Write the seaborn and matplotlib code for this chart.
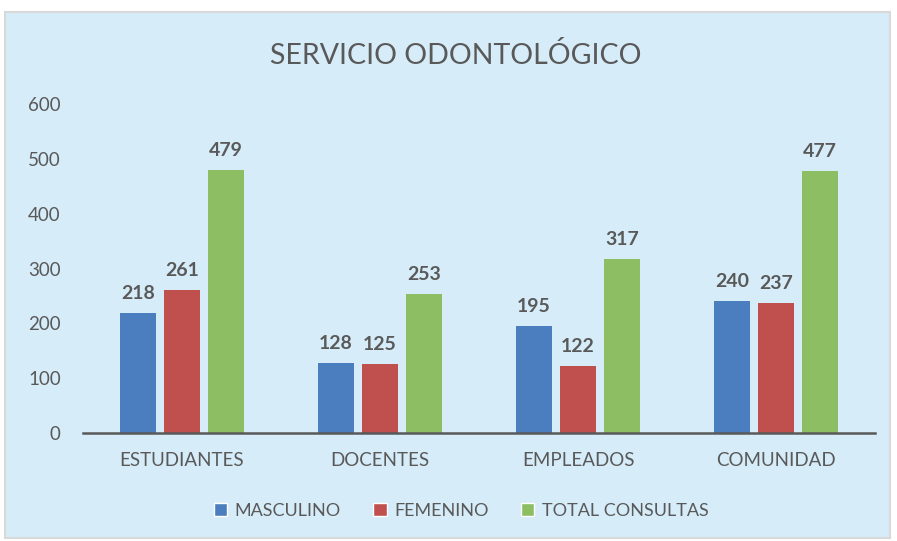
import matplotlib
matplotlib.use("Agg")
import matplotlib.pyplot as plt
import seaborn as sns
import pandas as pd
from matplotlib.patches import Rectangle, Patch

categories = ["ESTUDIANTES", "DOCENTES", "EMPLEADOS", "COMUNIDAD"]
series = ["MASCULINO", "FEMENINO", "TOTAL CONSULTAS"]
masculino = [218, 128, 195, 240]
femenino = [261, 125, 122, 237]
total = [479, 253, 317, 477]
y_ticks = [0, 100, 200, 300, 400, 500, 600]

colors = ["#4A7EBF", "#C0504D", "#8EBE64"]
bg = "#D6ECF9"
text_col = "#595959"

df = pd.DataFrame({
    "categoria": categories * 3,
    "serie": [s for s in series for _ in categories],
    "valor": masculino + femenino + total,
})

sns.set_theme(style="white")
plt.rcParams["font.family"] = ["Lato", "DejaVu Sans"]

fig = plt.figure(figsize=(8.97, 5.41), dpi=100, facecolor="white")
fig.patches.append(Rectangle((5 / 897, 3 / 541), 885 / 897, 526 / 541,
                             transform=fig.transFigure, facecolor=bg,
                             edgecolor="#D9D9D9", linewidth=1.5, zorder=-10))

ax = fig.add_axes([83 / 897, 1 - 433 / 541, 792 / 897, 329 / 541], zorder=2)
ax.set_facecolor("none")

sns.barplot(data=df, x="categoria", y="valor", hue="serie",
            order=categories, hue_order=series, palette=colors,
            width=0.667, gap=0.2, saturation=1, linewidth=0,
            ax=ax, legend=False)

for cont in ax.containers:
    ax.bar_label(cont, fmt="%d", padding=8, fontsize=14,
                 fontweight="bold", color=text_col)

ax.set_ylim(0, 600)
ax.set_xlim(-0.5, 3.5)
ax.set_yticks(y_ticks)
ax.set_xlabel("")
ax.set_ylabel("")
ax.tick_params(axis="y", length=0, pad=16, labelsize=13.5, labelcolor=text_col)
ax.tick_params(axis="x", length=0, pad=14, labelsize=13.5, labelcolor=text_col)
for s in ["top", "right", "left"]:
    ax.spines[s].set_visible(False)
ax.spines["bottom"].set_color(text_col)
ax.spines["bottom"].set_linewidth(1.8)

fig.text(0.508, 1 - 56 / 541, "SERVICIO ODONTOLÓGICO", ha="center", va="center",
         fontsize=20.5, color=text_col)

handles = [Patch(facecolor=c, label=s) for c, s in zip(colors, series)]
fig.legend(handles=handles, loc="center", bbox_to_anchor=(0.514, 1 - 511 / 541),
           ncol=3, frameon=False, fontsize=13, labelcolor=text_col,
           handlelength=0.75, handleheight=0.75, handletextpad=0.4,
           columnspacing=1.8)

fig.savefig("out.png", dpi=100, facecolor="white")
